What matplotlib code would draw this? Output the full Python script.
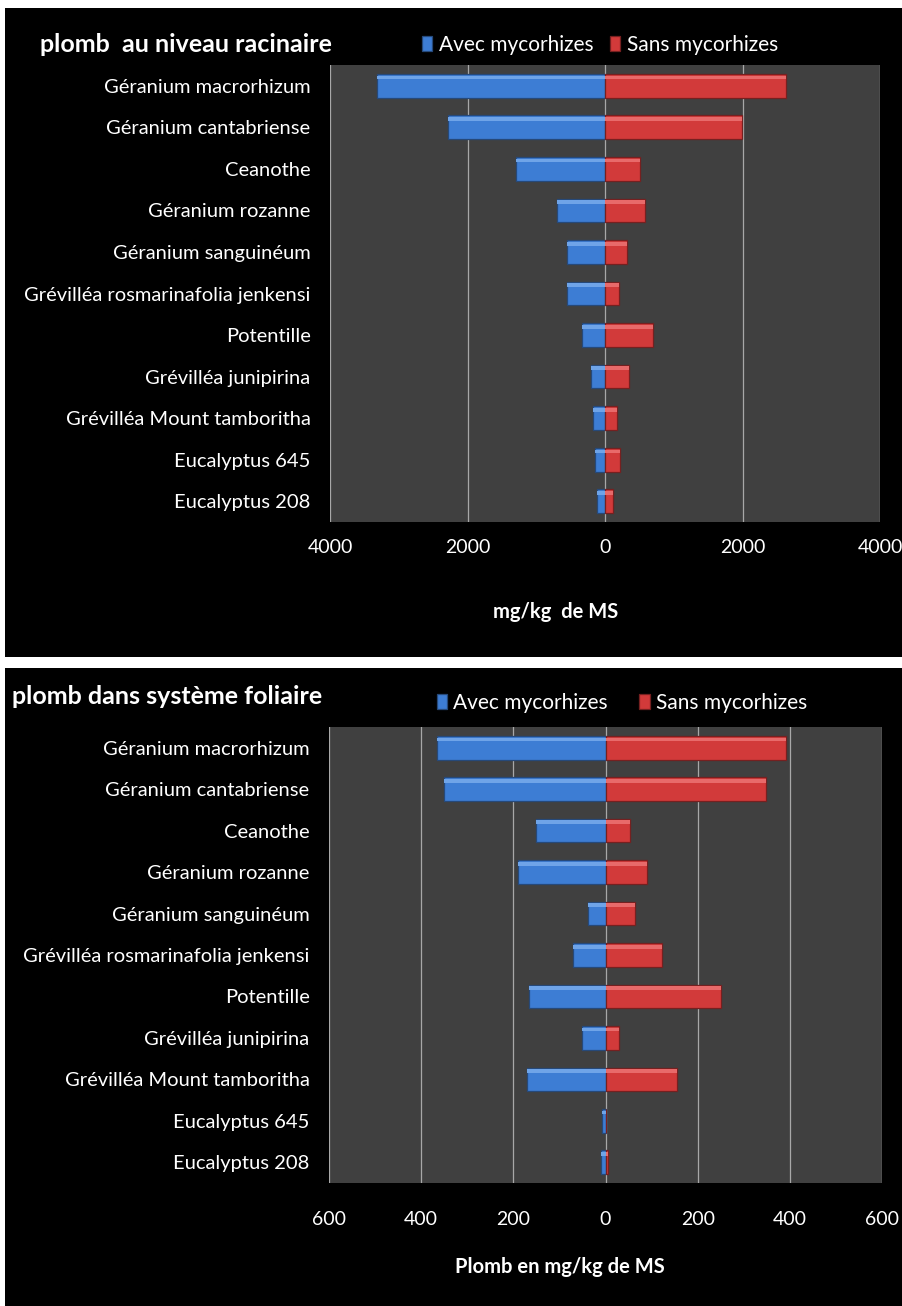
import matplotlib.pyplot as plt
import numpy as np
from matplotlib.patches import Rectangle

plt.rcParams["font.family"] = ["Lato", "DejaVu Sans"]

especes = [
    "Géranium macrorhizum",
    "Géranium cantabriense",
    "Ceanothe",
    "Géranium rozanne",
    "Géranium sanguinéum",
    "Grévilléa rosmarinafolia jenkensi",
    "Potentille",
    "Grévilléa junipirina",
    "Grévilléa Mount tamboritha",
    "Eucalyptus 645",
    "Eucalyptus 208",
]

# plomb au niveau racinaire (mg/kg de MS)
racine_avec = [3310, 2290, 1290, 700, 550, 550, 335, 200, 170, 150, 120]
racine_sans = [2630, 1995, 515, 585, 320, 205, 705, 345, 170, 225, 115]

# plomb dans le système foliaire (mg/kg de MS)
feuille_avec = [365, 351, 150, 190, 39, 71, 165, 51, 170, 8, 9]
feuille_sans = [391, 348, 54, 91, 63, 122, 251, 30, 156, 2, 6]

BLEU = "#3d7dd4"
ROUGE = "#d23a3a"
W, H = 902, 1306


def fx(px):
    return px / W


def fy(py):
    return 1 - py / H


def pyramide(ax, avec, sans, lim, step, tick_pad):
    y = np.arange(len(especes))
    ax.set_facecolor("#404040")
    b1 = ax.barh(y, -np.array(avec), height=0.57, color=BLEU, edgecolor="#26497a", lw=0.9,
                 label="Avec mycorhizes", zorder=3)
    b2 = ax.barh(y, sans, height=0.57, color=ROUGE, edgecolor="#762020", lw=0.9,
                 label="Sans mycorhizes", zorder=3)
    # reflet en haut des barres
    ax.barh(y - 0.2, -np.array(avec), height=0.09, color="#6fa4e8", lw=0, zorder=4)
    ax.barh(y - 0.2, sans, height=0.09, color="#e86a6a", lw=0, zorder=4)
    ax.set_xlim(-lim, lim)
    ticks = np.arange(-lim, lim + 1, step)
    ax.set_xticks(ticks)
    ax.set_xticklabels([str(abs(int(t))) for t in ticks])
    ax.set_yticks(y)
    ax.set_yticklabels(especes)
    ax.set_ylim(len(especes) - 0.5, -0.5)
    ax.grid(axis="x", color="#a8a8a8", lw=0.9, zorder=1)
    ax.grid(axis="y", visible=False)
    for s in ax.spines.values():
        s.set_visible(False)
    ax.tick_params(axis="y", length=0, pad=14, labelsize=14.5, colors="white")
    ax.tick_params(axis="x", length=0, pad=tick_pad, labelsize=14, colors="white")
    return b1, b2


fig = plt.figure(figsize=(W / 100, H / 100), dpi=100, facecolor="white")

# fonds noirs des deux panneaux
fig.patches.append(Rectangle((fx(5), fy(657)), fx(897), 649 / H, transform=fig.transFigure,
                             facecolor="black", edgecolor="none", zorder=-10))
fig.patches.append(Rectangle((fx(5), 0), fx(897), 638 / H, transform=fig.transFigure,
                             facecolor="black", edgecolor="none", zorder=-10))

ax1 = fig.add_axes([fx(330), fy(522), fx(550), 457 / H])
h1 = pyramide(ax1, racine_avec, racine_sans, 4000, 2000, 12)
fig.text(fx(40), fy(45), "plomb  au niveau racinaire", color="white", fontsize=18,
         fontweight="bold", va="center", ha="left")
fig.legend(h1, ["Avec mycorhizes", "Sans mycorhizes"], loc="center",
           bbox_to_anchor=(fx(600), fy(45)), ncol=2, frameon=False, fontsize=15,
           labelcolor="white", handlelength=0.5, handleheight=0.7, handletextpad=0.3,
           columnspacing=0.8)
fig.text(fx(556), fy(612), "mg/kg  de MS", color="white", fontsize=14.5,
         fontweight="bold", ha="center", va="center")

ax2 = fig.add_axes([fx(329), fy(1183), fx(553), 456 / H])
h2 = pyramide(ax2, feuille_avec, feuille_sans, 600, 200, 20)
fig.text(fx(12), fy(697), "plomb dans système foliaire", color="white", fontsize=18,
         fontweight="bold", va="center", ha="left")
fig.legend(h2, ["Avec mycorhizes", "Sans mycorhizes"], loc="center",
           bbox_to_anchor=(fx(622), fy(703)), ncol=2, frameon=False, fontsize=15,
           labelcolor="white", handlelength=0.5, handleheight=0.7, handletextpad=0.3,
           columnspacing=1.5)
fig.text(fx(560), fy(1267), "Plomb en mg/kg de MS", color="white", fontsize=14.5,
         fontweight="bold", ha="center", va="center")

fig.savefig("out.png", dpi=100, facecolor="white")
